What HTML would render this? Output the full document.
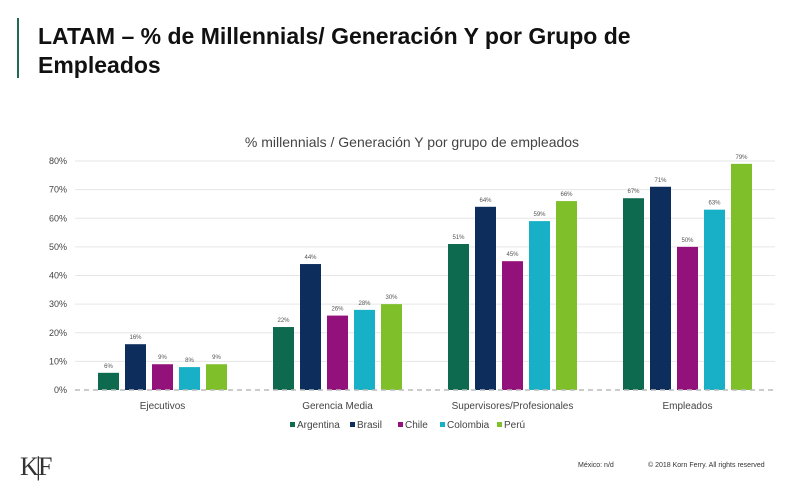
<!DOCTYPE html>
<html><head><meta charset="utf-8"><style>
body{margin:0;width:800px;height:501px;background:#fff;font-family:"Liberation Sans",sans-serif;overflow:hidden;position:relative}
.title{position:absolute;left:38px;top:22px;font-size:23px;font-weight:bold;color:#111;line-height:29px}
.vbar{position:absolute;left:17px;top:18px;width:2px;height:60px;background:#1e6b52}
</style></head><body>
<div class="vbar"></div>
<div class="title">LATAM – % de Millennials/ Generación Y por Grupo de<br>Empleados</div>
<svg id="c" width="800" height="501" style="position:absolute;left:0;top:0"></svg>
<div style="position:absolute;left:20px;top:452px;font-size:26px;font-family:'Liberation Serif',serif;color:#333;letter-spacing:-3px">K|F</div>
<div style="position:absolute;left:578px;top:462px;font-size:7px;color:#333">México: n/d</div>
<div style="position:absolute;left:648px;top:462px;font-size:7px;color:#333">© 2018 Korn Ferry. All rights reserved</div>
<script>
const categories=["Ejecutivos","Gerencia Media","Supervisores/Profesionales","Empleados"];
const series=["Argentina","Brasil","Chile","Colombia","Perú"];
const colors=["#0e6a4f","#0d2d5c","#93117a","#17b0c6","#7ebf2a"];
const argentina=[6,22,51,67];
const brasil=[16,44,64,71];
const chile=[9,26,45,50];
const colombia=[8,28,59,63];
const peru=[9,30,66,79];
const yTicks=[0,10,20,30,40,50,60,70,80];
const values=[argentina,brasil,chile,colombia,peru];
const ns="http://www.w3.org/2000/svg",svg=document.getElementById('c');
const x0=75,x1=775,y0=390,yTop=161,yMax=80;
const y=v=>y0-(v/yMax)*(y0-yTop);
const gw=(x1-x0)/categories.length;
const gx=i=>x0+gw*(i+0.5);
function mk(t,a,txt){const e=document.createElementNS(ns,t);for(const k in a)e.setAttribute(k,a[k]);if(txt!=null)e.textContent=txt;svg.appendChild(e);return e;}
let t=mk('text',{x:412,y:147,'font-size':14,fill:'#444','text-anchor':'middle','font-family':'Liberation Sans'},'%  millennials / Generación Y por grupo de empleados');


yTicks.forEach(v=>{
 if(v>0){const l=mk('line',{x1:x0,x2:x1,y1:y(v),y2:y(v),stroke:'#e6e6e6','stroke-width':1});
 
 }
 const tx=mk('text',{x:67,y:y(v)+3,'font-size':9,fill:'#444','text-anchor':'end'},v+'%');
 
 
});
const bw=21,step=27;
categories.forEach((c,i)=>{
 values.forEach((arr,s)=>{
  const bx=gx(i)+(s-2)*step-bw/2;
  const r=mk('rect',{x:bx,y:y(arr[i]),width:bw,height:y0-y(arr[i]),fill:colors[s]});
  
  
  const lb=mk('text',{x:bx+bw/2,y:y(arr[i])-5,'font-size':6,fill:'#555','text-anchor':'middle'},arr[i]+'%');
  
  
 });
 const cl=mk('text',{x:gx(i),y:409,'font-size':10,fill:'#444','text-anchor':'middle'},c);
 
 
});
const ax=mk('line',{x1:x0,x2:x1,y1:y0,y2:y0,stroke:'#bbb','stroke-width':1.5,'stroke-dasharray':'5,4'});


const lx=[290,350,398,440,497];
series.forEach((s,k)=>{
 const r=mk('rect',{x:lx[k],y:422,width:5,height:5,fill:colors[k]});
 
 
 const tx=mk('text',{x:lx[k]+7,y:428,'font-size':10,fill:'#444'},s);
 
 
});
</script>
</body></html>
